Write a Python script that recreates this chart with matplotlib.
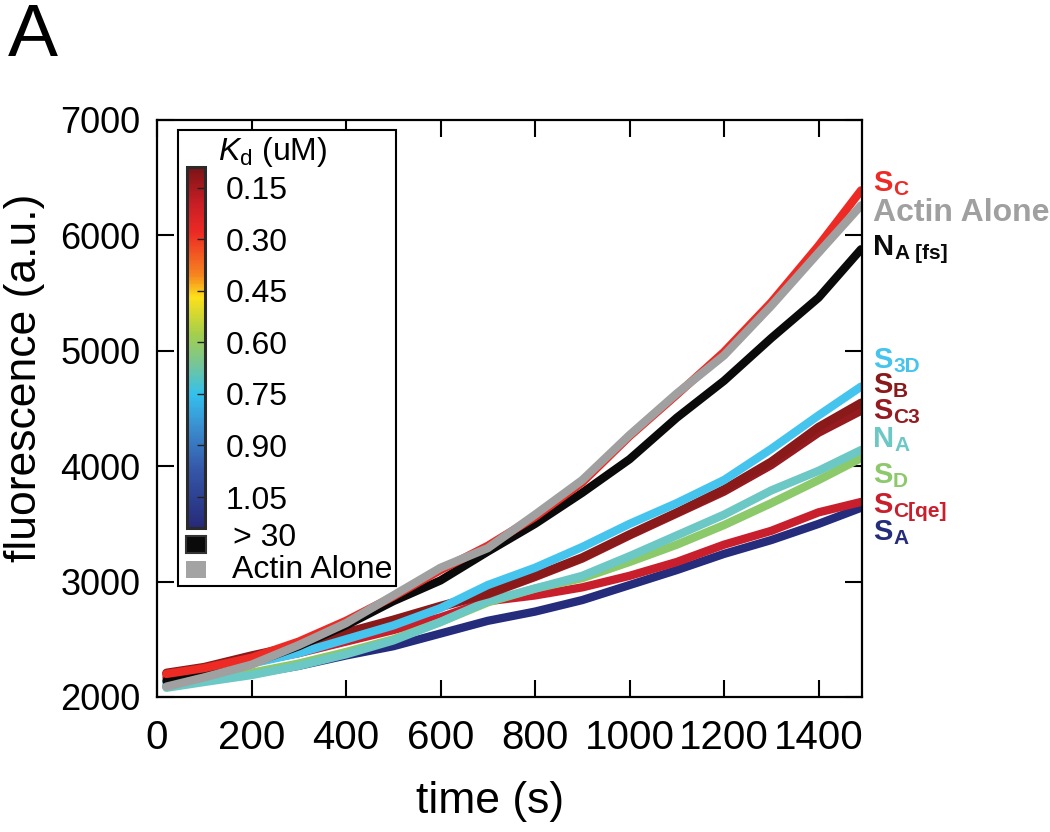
import numpy as np
import matplotlib
matplotlib.use("Agg")
import matplotlib.pyplot as plt
from matplotlib.colors import LinearSegmentedColormap, Normalize
from matplotlib.cm import ScalarMappable
from matplotlib.patches import Rectangle

# ---------------- data ----------------
time_s = [20, 100, 200, 300, 400, 500, 600, 700, 800, 900, 1000, 1100, 1200, 1300, 1400, 1490]

sa = [2090, 2140, 2200, 2270, 2360, 2440, 2550, 2660, 2740, 2840, 2970, 3100, 3240, 3360, 3500, 3640]
sc_qe = [2170, 2220, 2300, 2380, 2480, 2580, 2690, 2830, 2880, 2950, 3050, 3170, 3320, 3440, 3600, 3690]
sd = [2100, 2150, 2210, 2290, 2390, 2500, 2650, 2820, 2940, 3030, 3170, 3320, 3490, 3680, 3880, 4070]
na = [2080, 2130, 2190, 2270, 2370, 2490, 2650, 2830, 2940, 3050, 3220, 3400, 3580, 3790, 3960, 4140]
sc3 = [2200, 2250, 2350, 2440, 2550, 2660, 2780, 2890, 3040, 3200, 3400, 3590, 3780, 4010, 4290, 4480]
sb = [2210, 2260, 2360, 2450, 2560, 2670, 2790, 2900, 3050, 3210, 3410, 3600, 3800, 4040, 4340, 4550]
s3d = [2120, 2180, 2290, 2380, 2500, 2620, 2770, 2970, 3120, 3300, 3500, 3680, 3880, 4150, 4440, 4690]
na_fs = [2140, 2200, 2290, 2440, 2620, 2830, 3010, 3260, 3500, 3770, 4060, 4420, 4740, 5110, 5460, 5880]
sc = [2200, 2250, 2340, 2480, 2660, 2870, 3100, 3310, 3560, 3860, 4260, 4620, 4990, 5420, 5910, 6390]
actin_alone = [2090, 2170, 2280, 2450, 2640, 2880, 3120, 3290, 3580, 3880, 4270, 4630, 4960, 5390, 5850, 6260]

x_ticks = [0, 200, 400, 600, 800, 1000, 1200, 1400]
y_ticks = [2000, 3000, 4000, 5000, 6000, 7000]
kd_ticks = [0.15, 0.30, 0.45, 0.60, 0.75, 0.90, 1.05]
kd_range = [0.09, 1.14]

# (values, color, big letter, small part, label baseline px)
series = [
    (sa, '#262c7c', 'S', 'A', 540),
    (sc_qe, '#c91f2d', 'S', 'C[qe]', 513),
    (sd, '#8cc96a', 'S', 'D', 483),
    (na, '#6cc8c4', 'N', 'A', 447),
    (sc3, '#951b20', 'S', 'C3', 419),
    (sb, '#8a1a1a', 'S', 'B', 393),
    (s3d, '#45c4ee', 'S', '3D', 368),
    (na_fs, '#0a0a0a', 'N', 'A [fs]', 255),
    (sc, '#ee2a24', 'S', 'C', 191),
    (actin_alone, '#a0a0a0', 'Actin Alone', '', 221),
]

# ---------------- figure ----------------
plt.rcParams['font.family'] = ['Liberation Sans', 'DejaVu Sans']
plt.rcParams['mathtext.fontset'] = 'custom'
plt.rcParams['mathtext.rm'] = 'Liberation Sans'
plt.rcParams['mathtext.it'] = 'Liberation Sans:italic'

W, H = 1050, 832
fig = plt.figure(figsize=(W / 100, H / 100), dpi=100)

def fx(px):
    return px / W

def fy(py):
    return 1 - py / H

ax = fig.add_axes([fx(157), fy(697), 705 / W, 577 / H])
for vals, col, _, _, _ in series:
    ax.plot(time_s, vals, color=col, lw=6, solid_capstyle='round',
            solid_joinstyle='round', zorder=2)

ax.set_xlim(0, 1492)
ax.set_ylim(2000, 7000)
ax.set_xticks(x_ticks)
ax.set_yticks(y_ticks)
ax.tick_params(direction='in', length=12, width=1.5, top=True, right=True,
               colors='black')
ax.tick_params(axis='y', labelsize=26, pad=12)
ax.tick_params(axis='x', labelsize=29, pad=16)
for sp in ax.spines.values():
    sp.set_linewidth(1.6)

fig.text(fx(25), fy(378), 'fluorescence (a.u.)', rotation=90, fontsize=32,
         ha='center', va='center')
fig.text(fx(490), fy(802), 'time (s)', fontsize=32, ha='center', va='center')
fig.text(fx(8), fy(56), 'A', fontsize=54, ha='left', va='baseline')

# right-hand labels
for vals, col, big, small, base in series:
    big_size = 23 if small == '' else 21
    t = fig.text(fx(873), fy(base), big, fontsize=big_size, weight='bold',
                 color=col, ha='left', va='baseline')
    if small:
        ax.annotate(small, xy=(1, 0), xycoords=t,
                    xytext=(0.5, -0.21 * (big_size - 15)), textcoords='offset points',
                    fontsize=15, weight='bold', color=col, ha='left', va='bottom',
                    annotation_clip=False)

# legend frame
ax.add_patch(Rectangle((fx(178), fy(586)), fx(396) - fx(178), fy(130) - fy(586),
                       transform=fig.transFigure, facecolor='white',
                       edgecolor='black', lw=1.5, zorder=10, clip_on=False))
ax.add_patch(Rectangle((fx(186), fy(553)), fx(206) - fx(186), fy(536) - fy(553),
                       transform=fig.transFigure, facecolor='#0a0a0a',
                       edgecolor='#333333', lw=1.5, zorder=11, clip_on=False))
ax.add_patch(Rectangle((fx(186), fy(578)), fx(206) - fx(186), fy(561) - fy(578),
                       transform=fig.transFigure, facecolor='#a3a3a3',
                       edgecolor='none', zorder=11, clip_on=False))

cmap = LinearSegmentedColormap.from_list('kd', [
    (0.00, '#7a1416'), (0.10, '#c81e25'), (0.18, '#ec2a24'), (0.30, '#f6861f'),
    (0.36, '#fde01a'), (0.46, '#a6cf4a'), (0.55, '#74c59a'), (0.63, '#33c1ee'),
    (0.72, '#3a8fd0'), (0.84, '#3556a8'), (1.00, '#262a78')])

cax = fig.add_axes([fx(187), fy(528), 18 / W, 361 / H])
cb = fig.colorbar(ScalarMappable(norm=Normalize(kd_range[0], kd_range[1]), cmap=cmap),
                  cax=cax)
cax.set_ylim(kd_range[1], kd_range[0])
cb.set_ticks(kd_ticks)
cb.set_ticklabels(['%.2f' % v for v in kd_ticks])
cb.outline.set_linewidth(2.2)
cb.outline.set_edgecolor('#2a2a2a')
cax.yaxis.set_ticks_position('right')
cax.tick_params(direction='in', length=6, width=1, labelsize=23, pad=15,
                colors='#222222', labelcolor='black')

fig.text(fx(218), fy(160), r'$K_\mathrm{d}$ (uM)', fontsize=23, ha='left', va='baseline')
fig.text(fx(233), fy(538), '> 30', fontsize=23, ha='left', va='center')
fig.text(fx(232), fy(570), 'Actin Alone', fontsize=23, ha='left', va='center')

fig.savefig('out.png', dpi=100)
